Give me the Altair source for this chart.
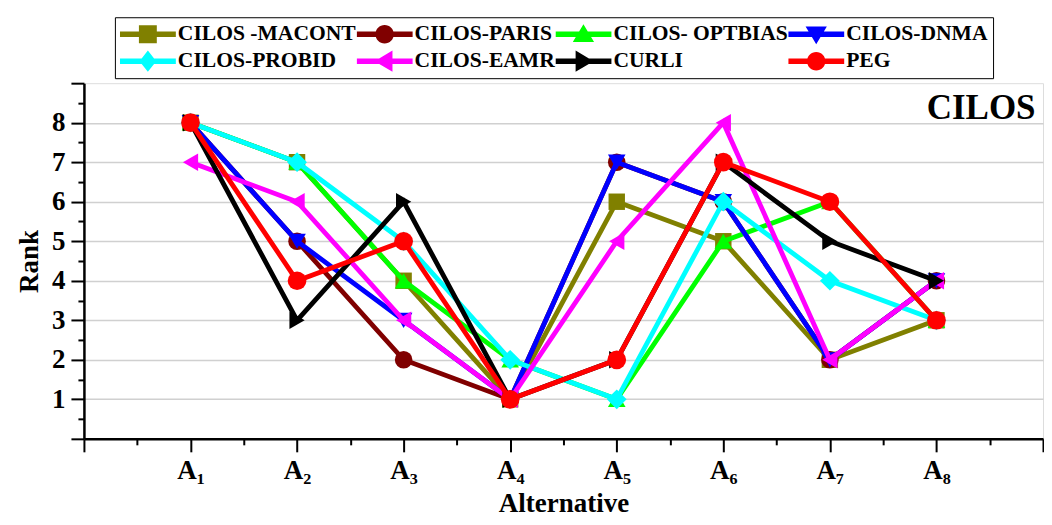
import json
import altair as alt
import pandas as pd

# ---------------- data ----------------
alternatives = ["A₁", "A₂", "A₃", "A₄", "A₅", "A₆", "A₇", "A₈"]
series_names = ["CILOS -MACONT", "CILOS-PARIS", "CILOS- OPTBIAS", "CILOS-DNMA",
                "CILOS-PROBID", "CILOS-EAMR", "CURLI", "PEG"]
macont = [8, 7, 4, 1, 6, 5, 2, 3]
paris = [8, 5, 2, 1, 7, 6, 2, 4]
optbias = [8, 7, 4, 2, 1, 5, 6, 3]
dnma = [8, 5, 3, 1, 7, 6, 2, 4]
probid = [8, 7, 5, 2, 1, 6, 4, 3]
eamr = [7, 6, 3, 1, 5, 8, 2, 4]
curli = [8, 3, 6, 1, 2, 7, 5, 4]
peg = [8, 4, 5, 1, 2, 7, 6, 3]
series_values = [macont, paris, optbias, dnma, probid, eamr, curli, peg]
annotation = ["CILOS"]

# ---------------- styles ----------------
colors = ["#808000", "#800000", "#00FF00", "#0000FF",
          "#00FFFF", "#FF00FF", "#000000", "#FF0000"]
shapes = ["square", "circle", "triangle-up", "triangle-down",
          "diamond", "triangle-left", "triangle-right", "circle"]
sizes = [270, 310, 310, 310, 390, 310, 310, 350]

LINE = "M-1,-0.1H1V0.1H-1Z "
legend_marks = {
    "square": "M-0.32,-0.32H0.32V0.32H-0.32Z",
    "circle": "M-0.33,0A0.33,0.33 0 1,1 0.33,0A0.33,0.33 0 1,1 -0.33,0Z",
    "triangle-up": "M0,-0.36L0.38,0.28L-0.38,0.28Z",
    "triangle-down": "M-0.38,-0.28L0.38,-0.28L0,0.36Z",
    "diamond": "M0,-0.38L0.3,0L0,0.38L-0.3,0Z",
    "triangle-left": "M-0.36,0L0.28,-0.38L0.28,0.38Z",
    "triangle-right": "M0.36,0L-0.28,0.38L-0.28,-0.38Z",
}
legend_paths = [LINE + legend_marks[s] for s in shapes]

SERIF = "Liberation Serif, Times New Roman, serif"

rows = []
for name, vals in zip(series_names, series_values):
    for i, (alt_name, v) in enumerate(zip(alternatives, vals)):
        rows.append({"series": name, "alt": alt_name, "x": i + 1, "rank": v})
df = pd.DataFrame(rows)

half_ticks = [i * 0.5 for i in range(19)]
x_scale = alt.Scale(domain=[0, 9], nice=False, zero=False)
y_scale = alt.Scale(domain=[0, 9], nice=False, zero=False)

tick_cond = {"condition": {"test": "datum.value % 1 === 0", "value": 13}, "value": 6}

x_label_expr = ("datum.value % 1 === 0 && datum.value >= 1 && datum.value <= 8 ? "
                + json.dumps(alternatives, ensure_ascii=False) + "[datum.value - 1] : ''")
x_axis = alt.Axis(
    title="Alternative", values=half_ticks, labelExpr=x_label_expr,
    tickSize=tick_cond, tickWidth=2, tickColor="black",
    domainColor="black", domainWidth=2.5, grid=False,
    labelFont=SERIF, labelFontWeight="bold", labelFontSize=27, labelColor="black",
    labelPadding=6, labelOverlap=False, labelFlush=False,
    titleFont=SERIF, titleFontWeight="bold", titleFontSize=27, titleColor="black",
    titlePadding=7,
)
y_axis = alt.Axis(
    title="Rank", values=half_ticks,
    labelExpr="datum.value % 1 === 0 && datum.value >= 1 && datum.value <= 8 ? datum.value : ''",
    tickSize=tick_cond, tickWidth=2, tickColor="black",
    domainColor="black", domainWidth=2.5,
    grid=True, gridColor="#d0d0d0", gridWidth=1.5,
    gridOpacity={"condition": {"test": "datum.value % 1 === 0 && datum.value > 0 && datum.value < 9",
                               "value": 1}, "value": 0},
    labelFont=SERIF, labelFontWeight="bold", labelFontSize=27, labelColor="black",
    labelPadding=6, labelOverlap=False, labelFlush=False,
    titleFont=SERIF, titleFontWeight="bold", titleFontSize=27, titleColor="black",
    titlePadding=8,
)

X = alt.X("x:Q", scale=x_scale, axis=x_axis)
Y = alt.Y("rank:Q", scale=y_scale, axis=y_axis)

layers = []
for name, c, s, sz in zip(series_names, colors, shapes, sizes):
    sub = df[df["series"] == name]
    base = alt.Chart(sub)
    layers.append(base.mark_line(color=c, strokeWidth=4.8).encode(x=X, y=Y))
    layers.append(base.mark_point(shape=s, filled=True, color=c, size=sz, opacity=1)
                  .encode(x=X, y=Y))

legend = alt.Legend(
    title=None, orient="none", legendX=31, legendY=-66, columns=4, direction="horizontal",
    columnPadding=0, rowPadding=3, padding=5, clipHeight=24,
    labelFont=SERIF, labelFontWeight="bold", labelFontSize=21.6, labelColor="black",
    labelLimit=400, labelOffset=2, symbolOffset=0,
    symbolSize=3136, symbolStrokeWidth=0, symbolOpacity=1,
    strokeColor="black", fillColor="white",
)
legend_layer = alt.Chart(df).mark_point(filled=True, opacity=0).encode(
    x=X, y=Y,
    color=alt.Color("series:N", scale=alt.Scale(domain=series_names, range=colors),
                    legend=legend),
    shape=alt.Shape("series:N", scale=alt.Scale(domain=series_names, range=legend_paths),
                    legend=legend),
)
layers.append(legend_layer)

ann_df = pd.DataFrame({"label": annotation, "x": [8.93], "rank": [8.1]})
text_layer = alt.Chart(ann_df).mark_text(
    font=SERIF, fontWeight="bold", fontSize=35, align="right",
    baseline="alphabetic", color="black",
).encode(x=X, y=Y, text="label:N")
layers.append(text_layer)

chart = alt.layer(*layers).properties(
    width=960, height=356,
    padding={"left": 7, "top": 8, "right": 0, "bottom": 0},
).configure_view(stroke="black", strokeWidth=2.5).configure(background="white")

chart.save("out.html", embed_options={"renderer": "svg", "actions": False})
